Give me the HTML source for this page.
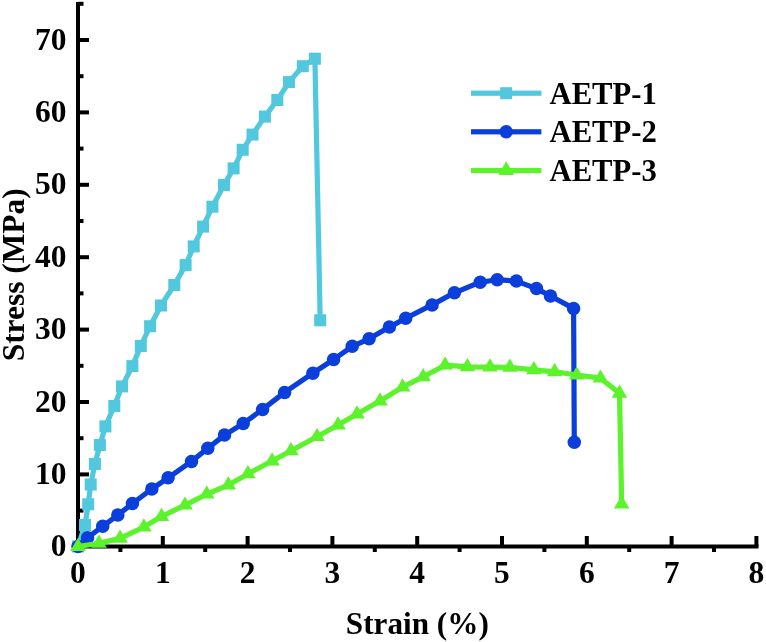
<!DOCTYPE html>
<html><head><meta charset="utf-8"><title>Stress-Strain</title>
<style>html,body{margin:0;padding:0;background:#fff}svg{display:block}</style></head>
<body>
<svg width="766" height="642" viewBox="0 0 766 642">
<rect width="766" height="642" fill="#fff"/>
<g fill="#000">
<rect x="76" y="2" width="4" height="546.5"/>
<rect x="76" y="544.5" width="682.5" height="4"/>
<rect x="78" y="508.6" width="5.5" height="4"/>
<rect x="78" y="472.4" width="11" height="4"/>
<rect x="78" y="436.2" width="5.5" height="4"/>
<rect x="78" y="400.0" width="11" height="4"/>
<rect x="78" y="363.8" width="5.5" height="4"/>
<rect x="78" y="327.6" width="11" height="4"/>
<rect x="78" y="291.4" width="5.5" height="4"/>
<rect x="78" y="255.2" width="11" height="4"/>
<rect x="78" y="219.0" width="5.5" height="4"/>
<rect x="78" y="182.8" width="11" height="4"/>
<rect x="78" y="146.6" width="5.5" height="4"/>
<rect x="78" y="110.4" width="11" height="4"/>
<rect x="78" y="74.2" width="5.5" height="4"/>
<rect x="78" y="38.0" width="11" height="4"/>
<rect x="78" y="1.8" width="5.5" height="4"/>
<rect x="118.4" y="546" width="4" height="6"/>
<rect x="160.8" y="536" width="4" height="10"/>
<rect x="203.2" y="546" width="4" height="6"/>
<rect x="245.6" y="536" width="4" height="10"/>
<rect x="288.0" y="546" width="4" height="6"/>
<rect x="330.4" y="536" width="4" height="10"/>
<rect x="372.8" y="546" width="4" height="6"/>
<rect x="415.2" y="536" width="4" height="10"/>
<rect x="457.6" y="546" width="4" height="6"/>
<rect x="500.0" y="536" width="4" height="10"/>
<rect x="542.4" y="546" width="4" height="6"/>
<rect x="584.8" y="536" width="4" height="10"/>
<rect x="627.2" y="546" width="4" height="6"/>
<rect x="669.6" y="536" width="4" height="10"/>
<rect x="712.0" y="546" width="4" height="6"/>
<rect x="754.4" y="536" width="4" height="10"/>
</g>
<polyline fill="none" stroke="#52C8DE" stroke-width="5.2" stroke-linejoin="round" points="78.0,546.5 85.0,525.0 88.2,504.3 90.7,484.5 94.9,464.0 99.9,445.0 105.4,426.4 114.3,406.0 122.0,386.4 132.4,366.1 140.8,346.0 150.1,326.2 161.0,305.5 174.3,285.0 185.6,265.1 193.7,246.4 203.1,226.6 212.4,206.7 224.0,185.0 233.6,168.4 242.7,149.8 252.5,134.6 264.9,116.6 277.3,100.0 289.0,82.1 302.8,66.2 314.9,58.7 320.2,320.3"/>
<rect x="72.0" y="540.5" width="12" height="12" fill="#52C8DE"/>
<rect x="79.0" y="519.0" width="12" height="12" fill="#52C8DE"/>
<rect x="82.2" y="498.3" width="12" height="12" fill="#52C8DE"/>
<rect x="84.7" y="478.5" width="12" height="12" fill="#52C8DE"/>
<rect x="88.9" y="458.0" width="12" height="12" fill="#52C8DE"/>
<rect x="93.9" y="439.0" width="12" height="12" fill="#52C8DE"/>
<rect x="99.4" y="420.4" width="12" height="12" fill="#52C8DE"/>
<rect x="108.3" y="400.0" width="12" height="12" fill="#52C8DE"/>
<rect x="116.0" y="380.4" width="12" height="12" fill="#52C8DE"/>
<rect x="126.4" y="360.1" width="12" height="12" fill="#52C8DE"/>
<rect x="134.8" y="340.0" width="12" height="12" fill="#52C8DE"/>
<rect x="144.1" y="320.2" width="12" height="12" fill="#52C8DE"/>
<rect x="155.0" y="299.5" width="12" height="12" fill="#52C8DE"/>
<rect x="168.3" y="279.0" width="12" height="12" fill="#52C8DE"/>
<rect x="179.6" y="259.1" width="12" height="12" fill="#52C8DE"/>
<rect x="187.7" y="240.4" width="12" height="12" fill="#52C8DE"/>
<rect x="197.1" y="220.6" width="12" height="12" fill="#52C8DE"/>
<rect x="206.4" y="200.7" width="12" height="12" fill="#52C8DE"/>
<rect x="218.0" y="179.0" width="12" height="12" fill="#52C8DE"/>
<rect x="227.6" y="162.4" width="12" height="12" fill="#52C8DE"/>
<rect x="236.7" y="143.8" width="12" height="12" fill="#52C8DE"/>
<rect x="246.5" y="128.6" width="12" height="12" fill="#52C8DE"/>
<rect x="258.9" y="110.6" width="12" height="12" fill="#52C8DE"/>
<rect x="271.3" y="94.0" width="12" height="12" fill="#52C8DE"/>
<rect x="283.0" y="76.1" width="12" height="12" fill="#52C8DE"/>
<rect x="296.8" y="60.2" width="12" height="12" fill="#52C8DE"/>
<rect x="308.9" y="52.7" width="12" height="12" fill="#52C8DE"/>
<rect x="314.2" y="314.3" width="12" height="12" fill="#52C8DE"/>
<polyline fill="none" stroke="#0B3FDB" stroke-width="5.2" stroke-linejoin="round" points="78.0,546.5 87.6,537.8 102.7,526.2 117.8,515.1 132.4,503.5 151.8,489.0 168.1,477.8 191.5,461.4 207.8,448.3 224.5,435.1 243.2,423.5 262.6,409.4 284.6,392.4 312.9,373.2 333.6,359.5 352.2,346.3 369.1,338.8 389.4,327.1 405.7,318.2 432.1,304.9 454.4,292.8 480.2,282.2 497.2,279.7 516.4,281.1 536.5,288.6 550.5,296.0 573.6,308.4 574.3,442.2"/>
<circle cx="78.0" cy="546.5" r="6.75" fill="#0B3FDB"/>
<circle cx="87.6" cy="537.8" r="6.75" fill="#0B3FDB"/>
<circle cx="102.7" cy="526.2" r="6.75" fill="#0B3FDB"/>
<circle cx="117.8" cy="515.1" r="6.75" fill="#0B3FDB"/>
<circle cx="132.4" cy="503.5" r="6.75" fill="#0B3FDB"/>
<circle cx="151.8" cy="489.0" r="6.75" fill="#0B3FDB"/>
<circle cx="168.1" cy="477.8" r="6.75" fill="#0B3FDB"/>
<circle cx="191.5" cy="461.4" r="6.75" fill="#0B3FDB"/>
<circle cx="207.8" cy="448.3" r="6.75" fill="#0B3FDB"/>
<circle cx="224.5" cy="435.1" r="6.75" fill="#0B3FDB"/>
<circle cx="243.2" cy="423.5" r="6.75" fill="#0B3FDB"/>
<circle cx="262.6" cy="409.4" r="6.75" fill="#0B3FDB"/>
<circle cx="284.6" cy="392.4" r="6.75" fill="#0B3FDB"/>
<circle cx="312.9" cy="373.2" r="6.75" fill="#0B3FDB"/>
<circle cx="333.6" cy="359.5" r="6.75" fill="#0B3FDB"/>
<circle cx="352.2" cy="346.3" r="6.75" fill="#0B3FDB"/>
<circle cx="369.1" cy="338.8" r="6.75" fill="#0B3FDB"/>
<circle cx="389.4" cy="327.1" r="6.75" fill="#0B3FDB"/>
<circle cx="405.7" cy="318.2" r="6.75" fill="#0B3FDB"/>
<circle cx="432.1" cy="304.9" r="6.75" fill="#0B3FDB"/>
<circle cx="454.4" cy="292.8" r="6.75" fill="#0B3FDB"/>
<circle cx="480.2" cy="282.2" r="6.75" fill="#0B3FDB"/>
<circle cx="497.2" cy="279.7" r="6.75" fill="#0B3FDB"/>
<circle cx="516.4" cy="281.1" r="6.75" fill="#0B3FDB"/>
<circle cx="536.5" cy="288.6" r="6.75" fill="#0B3FDB"/>
<circle cx="550.5" cy="296.0" r="6.75" fill="#0B3FDB"/>
<circle cx="573.6" cy="308.4" r="6.75" fill="#0B3FDB"/>
<circle cx="574.3" cy="442.2" r="6.75" fill="#0B3FDB"/>
<polyline fill="none" stroke="#5CF22C" stroke-width="5.2" stroke-linejoin="round" points="78.0,546.5 99.0,543.4 120.1,538.3 143.9,527.0 161.5,516.5 185.0,505.2 206.8,494.2 228.3,485.1 247.9,473.9 272.1,461.0 291.0,450.8 317.0,436.7 338.0,425.0 357.0,414.0 380.0,401.1 402.6,387.0 423.2,376.8 445.1,365.2 467.4,366.8 490.0,367.1 509.9,367.4 533.9,369.8 554.7,371.8 576.7,375.0 600.4,378.2 619.5,393.3 621.7,504.2"/>
<polygon fill="#5CF22C" points="78.0,537.7 85.8,550.9 70.2,550.9"/>
<polygon fill="#5CF22C" points="99.0,534.6 106.8,547.8 91.2,547.8"/>
<polygon fill="#5CF22C" points="120.1,529.5 127.9,542.7 112.3,542.7"/>
<polygon fill="#5CF22C" points="143.9,518.2 151.7,531.4 136.1,531.4"/>
<polygon fill="#5CF22C" points="161.5,507.7 169.3,520.9 153.7,520.9"/>
<polygon fill="#5CF22C" points="185.0,496.4 192.8,509.6 177.2,509.6"/>
<polygon fill="#5CF22C" points="206.8,485.4 214.6,498.6 199.0,498.6"/>
<polygon fill="#5CF22C" points="228.3,476.3 236.1,489.5 220.5,489.5"/>
<polygon fill="#5CF22C" points="247.9,465.1 255.7,478.3 240.1,478.3"/>
<polygon fill="#5CF22C" points="272.1,452.2 279.9,465.4 264.3,465.4"/>
<polygon fill="#5CF22C" points="291.0,442.0 298.8,455.2 283.2,455.2"/>
<polygon fill="#5CF22C" points="317.0,427.9 324.8,441.1 309.2,441.1"/>
<polygon fill="#5CF22C" points="338.0,416.2 345.8,429.4 330.2,429.4"/>
<polygon fill="#5CF22C" points="357.0,405.2 364.8,418.4 349.2,418.4"/>
<polygon fill="#5CF22C" points="380.0,392.3 387.8,405.5 372.2,405.5"/>
<polygon fill="#5CF22C" points="402.6,378.2 410.4,391.4 394.8,391.4"/>
<polygon fill="#5CF22C" points="423.2,368.0 431.0,381.2 415.4,381.2"/>
<polygon fill="#5CF22C" points="445.1,356.4 452.9,369.6 437.3,369.6"/>
<polygon fill="#5CF22C" points="467.4,358.0 475.2,371.2 459.6,371.2"/>
<polygon fill="#5CF22C" points="490.0,358.3 497.8,371.5 482.2,371.5"/>
<polygon fill="#5CF22C" points="509.9,358.6 517.7,371.8 502.1,371.8"/>
<polygon fill="#5CF22C" points="533.9,361.0 541.7,374.2 526.1,374.2"/>
<polygon fill="#5CF22C" points="554.7,363.0 562.5,376.2 546.9,376.2"/>
<polygon fill="#5CF22C" points="576.7,366.2 584.5,379.4 568.9,379.4"/>
<polygon fill="#5CF22C" points="600.4,369.4 608.2,382.6 592.6,382.6"/>
<polygon fill="#5CF22C" points="619.5,384.5 627.3,397.7 611.7,397.7"/>
<polygon fill="#5CF22C" points="621.7,495.4 629.5,508.6 613.9,508.6"/>
<rect x="471" y="90.6" width="70.4" height="5.2" fill="#52C8DE"/>
<rect x="500.2" y="87.2" width="12" height="12" fill="#52C8DE"/>
<rect x="471" y="129.2" width="70.4" height="5.2" fill="#0B3FDB"/>
<circle cx="506.2" cy="131.8" r="6.75" fill="#0B3FDB"/>
<rect x="471" y="167.9" width="70.4" height="5.2" fill="#5CF22C"/>
<polygon fill="#5CF22C" points="506.2,161.3 514.1,175.1 498.3,175.1"/>
<g font-family="'Liberation Serif', 'Times New Roman', serif" font-weight="bold" fill="#000">
<text transform="translate(549.5,104.1) scale(0.974,1)" font-size="31.5px" text-anchor="start">AETP-1</text>
<text transform="translate(549.5,142.3) scale(0.974,1)" font-size="31.5px" text-anchor="start">AETP-2</text>
<text transform="translate(549.5,181.0) scale(0.974,1)" font-size="31.5px" text-anchor="start">AETP-3</text>
<text transform="translate(66.5,556.3) scale(0.985,1)" font-size="32px" text-anchor="end">0</text>
<text transform="translate(66.5,483.9) scale(0.985,1)" font-size="32px" text-anchor="end">10</text>
<text transform="translate(66.5,411.5) scale(0.985,1)" font-size="32px" text-anchor="end">20</text>
<text transform="translate(66.5,339.1) scale(0.985,1)" font-size="32px" text-anchor="end">30</text>
<text transform="translate(66.5,266.7) scale(0.985,1)" font-size="32px" text-anchor="end">40</text>
<text transform="translate(66.5,194.3) scale(0.985,1)" font-size="32px" text-anchor="end">50</text>
<text transform="translate(66.5,121.9) scale(0.985,1)" font-size="32px" text-anchor="end">60</text>
<text transform="translate(66.5,49.5) scale(0.985,1)" font-size="32px" text-anchor="end">70</text>
<text transform="translate(78.0,583.0) scale(0.985,1)" font-size="32px" text-anchor="middle">0</text>
<text transform="translate(162.8,583.0) scale(0.985,1)" font-size="32px" text-anchor="middle">1</text>
<text transform="translate(247.6,583.0) scale(0.985,1)" font-size="32px" text-anchor="middle">2</text>
<text transform="translate(332.4,583.0) scale(0.985,1)" font-size="32px" text-anchor="middle">3</text>
<text transform="translate(417.2,583.0) scale(0.985,1)" font-size="32px" text-anchor="middle">4</text>
<text transform="translate(502.0,583.0) scale(0.985,1)" font-size="32px" text-anchor="middle">5</text>
<text transform="translate(586.8,583.0) scale(0.985,1)" font-size="32px" text-anchor="middle">6</text>
<text transform="translate(671.6,583.0) scale(0.985,1)" font-size="32px" text-anchor="middle">7</text>
<text transform="translate(756.4,583.0) scale(0.985,1)" font-size="32px" text-anchor="middle">8</text>
<text transform="translate(417.3,634.0) scale(0.96,1)" font-size="32.5px" text-anchor="middle">Strain (%)</text>
<text transform="translate(24.4,274.8) rotate(-90) scale(0.967,1)" font-size="32.5px" text-anchor="middle">Stress (MPa)</text>
</g>
</svg>
</body></html>
